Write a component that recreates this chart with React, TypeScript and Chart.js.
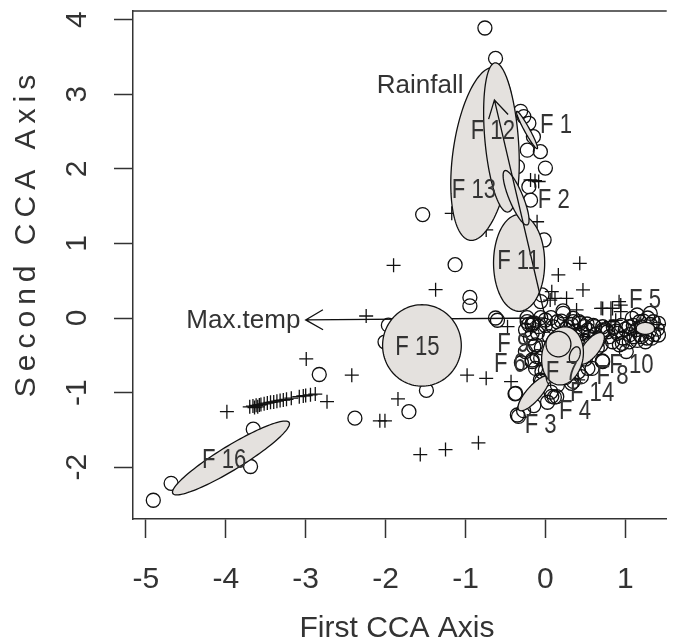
import React, { useEffect, useRef } from "react";
import { Chart, registerables } from "chart.js";

Chart.register(...registerables);

// ---------- data ----------
const xTicks = [-5, -4, -3, -2, -1, 0, 1];
const yTicks = [-2, -1, 0, 1, 2, 3, 4];
const xTitle = "First CCA Axis";
const yTitle = "Second CCA Axis";

// site scores drawn as open circles
const sitesCircle: [number, number][] = [
  [-0.757, 3.887], [-0.624, 3.48],
  [-0.31, 2.77], [-0.27, 2.7], [-0.207, 2.61], [-0.15, 2.43], [-0.227, 2.25], [-0.063, 2.23], [0.0, 2.01],
  [-0.35, 2.03], [-0.207, 1.76], [-0.186, 1.58],
  [-1.536, 1.386], [-1.13, 0.715], [-0.945, 0.276], [-0.945, 0.162], [-0.624, 0.0], [-0.6, -0.03],
  [-1.965, -0.096], [-2.007, -0.322], [-2.83, -0.757], [-1.489, -0.97], [-1.708, -1.256], [-2.384, -1.342],
  [-3.656, -1.49], [-3.69, -1.99], [-4.684, -2.216], [-4.907, -2.443],
  [-0.016, 1.046], [-0.043, 0.309], [-0.06, 0.22],
  [-0.209, -0.087], [-0.23, 0.004], [-0.145, -0.064], [-0.059, 0.004], [0.07, 0.004], [0.198, -0.041],
  [0.327, -0.087], [0.37, -0.177], [-0.187, -0.268], [-0.123, -0.359], [-0.059, -0.54], [-0.166, -0.585],
  [-0.123, -0.676], [0.155, -0.721], [0.37, -0.495], [0.498, -0.313], [0.626, -0.223], [0.755, -0.155],
  [0.883, -0.177], [0.969, -0.268], [1.055, -0.223], [1.14, -0.155], [1.226, -0.041], [1.312, -0.087],
  [1.355, -0.223], [1.269, -0.268], [1.183, -0.223], [0.926, -0.359], [0.712, -0.576], [1.012, -0.449],
  [0.584, -0.676], [0.412, -0.721], [0.07, -0.993], [0.112, -1.061], [0.027, -1.129], [-0.145, -1.174],
  [-0.273, -1.242], [-0.337, -1.319], [-0.38, -1.016], [0.22, 0.095],
  [0.0, -0.1], [0.1, -0.12], [0.25, -0.15], [0.45, -0.2], [0.55, -0.25], [0.3, -0.3], [0.05, -0.25],
  [-0.05, -0.4], [0.0, -0.7], [0.25, -0.8], [0.35, -0.85], [0.5, -0.55], [0.65, -0.4], [0.8, -0.25],
  [0.85, -0.12], [1.1, -0.1], [1.18, -0.05], [1.3, -0.18], [1.4, -0.15], [1.0, -0.15], [0.6, -0.1],
  [-0.3, -0.6], [-0.25, -0.45], [0.15, -0.9], [-0.05, -0.85], [1.2, -0.25], [1.35, -0.05], [1.28, 0.0],
  [1.15, -0.3], [0.42, -0.05], [0.15, -0.05], [-0.1, -0.2],
  [1.087, -0.005], [1.148, 0.04], [1.312, 0.062], [1.415, -0.072], [1.415, -0.228], [1.251, -0.318],
  [1.107, -0.251], [1.045, -0.117],
  [0.717, -0.117], [0.778, -0.184], [0.902, -0.206], [0.963, -0.34], [0.84, -0.318], [0.696, -0.362],
  [-0.166, -0.093], [0.347, -0.004], [0.491, -0.116], [0.717, -0.16], [0.717, -0.585], [-0.372, -1.01],
  [-0.351, -1.3], [0.08, -1.05], [-0.166, -0.563],
  [-0.228, -0.049], [-0.166, -0.071], [-0.248, -0.161], [-0.166, -0.205], [-0.084, -0.116], [0.0, -0.027],
  [0.224, 0.063], [0.347, -0.049], [0.43, -0.071], [0.532, -0.161], [0.614, -0.116], [0.717, -0.183],
  [0.471, -0.205], [0.49, -0.34], [-0.145, -0.384], [-0.104, -0.518], [-0.043, -0.72], [-0.063, -0.831],
  [0.142, -1.054], [0.327, -0.876], [0.45, -0.786], [0.532, -0.675], [0.28, -0.12], [0.52, -0.08],
  [0.95, -0.1], [1.05, -0.32], [1.2, -0.12], [1.33, -0.27], [0.66, -0.3], [0.4, -0.3],
];

// species scores drawn as plus signs
const sitesPlus: [number, number][] = [
  [-1.9, 0.706], [-1.374, 0.38], [-2.243, 0.027], [-2.993, -0.549], [-2.423, -0.766], [-2.733, -1.121],
  [-3.986, -1.256], [-1.845, -1.084], [-2.072, -1.378], [-2.008, -1.378], [-1.566, -1.831], [-1.25, -1.763],
  [-0.838, -1.673], [-0.98, -0.766], [-0.741, -0.808], [-0.43, -0.853], [-0.474, -0.116],
  [0.43, 0.733], [0.162, 0.577], [0.47, 0.376], [0.08, 0.353], [0.12, 0.264], [0.265, 0.264], [0.39, 0.108],
  [0.697, 0.13], [0.922, 0.219], [0.82, 0.13], [0.717, 0.129], [0.84, 0.129], [0.943, 0.174], [0.943, 0.085],
  [0.82, -0.05], [0.88, -0.03], [0.06, 0.24], [0.41, -0.83], [-0.186, 1.85], [-0.084, 1.83], [-0.13, 1.84],
  [-1.172, 1.403], [-0.104, 1.29], [-0.741, 1.18], [1.42, -0.09],
  [-3.7, -1.19], [-3.66, -1.18], [-3.64, -1.2], [-3.62, -1.17], [-3.6, -1.19], [-3.58, -1.165], [-3.56, -1.16],
  [-3.52, -1.15], [-3.48, -1.14], [-3.44, -1.13], [-3.4, -1.125], [-3.36, -1.115], [-3.32, -1.105],
  [-3.28, -1.1], [-3.24, -1.09], [-3.18, -1.075], [-3.08, -1.055], [-3.03, -1.045], [-3.0, -1.04],
  [-2.94, -1.03], [-2.88, -1.02],
];

// group dispersion ellipses (centre, two conjugate semi-axis vectors) in drawing order
const groupEllipseNames = ["F1", "F11", "F13", "F12", "F14", "F15", "F16", "F2", "F3", "F6", "F7", "F5", "F8", "F9"];
const groupEllipseCentre: [number, number][] = [
  [-0.23, 2.52], [-0.329, 0.738], [-0.79, 2.2], [-0.55, 2.42], [0.574, -0.407], [-1.545, -0.368],
  [-3.935, -1.876], [-0.367, 1.612], [-0.146, -1.01], [0.04, -0.652], [0.214, -0.507], [1.251, -0.139],
  [0.368, -0.496], [0.163, -0.35],
];
const groupEllipseU: [number, number][] = [
  [0.128, -0.25], [0.0, 0.648], [0.136, 1.16], [-0.075, 1.0], [0.144, 0.201], [0.0, 0.546],
  [0.728, 0.475], [-0.141, 0.363], [0.185, 0.224], [0.0, 0.224], [0.03, 0.39], [0.0, 0.08],
  [0.03, 0.11], [0.0, 0.17],
];
const groupEllipseV: [number, number][] = [
  [0.03, 0.015], [0.32, 0.0], [0.37, 0.0], [0.21, 0.0], [0.078, -0.066], [0.4925, 0.0],
  [0.076, -0.138], [0.08, 0.036], [0.067, -0.066], [0.041, 0.0], [0.26, 0.0], [0.115, 0.0],
  [0.062, -0.01], [0.156, 0.0],
];

// group labels
const groupLabels = ["F 1", "F 2", "F 12", "F 13", "F 11", "F 5", "F 15", "F 16", "F 9", "F 6", "F 7", "F 8", "F 10", "F 14", "F 4", "F 3"];
const groupLabelPos: [number, number][] = [
  [0.134, 2.596], [0.104, 1.59], [-0.658, 2.519], [-0.894, 1.726], [-0.337, 0.774], [1.247, 0.253],
  [-1.601, -0.381], [-4.02, -1.9], [-0.401, -0.336], [-0.444, -0.608], [0.204, -0.719], [0.84, -0.766],
  [1.076, -0.63], [0.584, -0.993], [0.37, -1.242], [-0.059, -1.424],
];

// environmental biplot arrows
const envNames = ["Max.temp", "Rainfall"];
const envTips: [number, number][] = [[-3.0, -0.025], [-0.638, 2.923]];
const envLabelPos: [number, number][] = [[-3.78, -0.03], [-1.567, 3.13]];

// ---------- drawing helpers ----------
const INK = "#111111";
const TEXT = "#333333";
const FILL = "#e4e1de";

const overlayPlugin = {
  id: "ccaOverlay",
  afterDatasetsDraw(chart: any) {
    const ctx: CanvasRenderingContext2D = chart.ctx;
    const xs = chart.scales.x;
    const ys = chart.scales.y;
    const ca = chart.chartArea;
    const px = (v: number) => xs.getPixelForValue(v);
    const py = (v: number) => ys.getPixelForValue(v);

    const arrow = (i: number) => {
      const x0 = px(0), y0 = py(0);
      const x1 = px(envTips[i][0]), y1 = py(envTips[i][1]);
      ctx.strokeStyle = INK;
      ctx.lineWidth = 1.3;
      ctx.beginPath();
      ctx.moveTo(x0, y0);
      ctx.lineTo(x1, y1);
      const a = Math.atan2(y1 - y0, x1 - x0);
      const L = 20, h = Math.PI / 6;
      ctx.moveTo(x1 - L * Math.cos(a - h), y1 - L * Math.sin(a - h));
      ctx.lineTo(x1, y1);
      ctx.lineTo(x1 - L * Math.cos(a + h), y1 - L * Math.sin(a + h));
      ctx.stroke();
    };

    ctx.save();
    ctx.beginPath();
    ctx.rect(ca.left, ca.top, ca.right - ca.left, ca.bottom - ca.top);
    ctx.clip();

    arrow(0);

    for (let i = 0; i < groupEllipseNames.length; i++) {
      const [cx, cy] = groupEllipseCentre[i];
      const [ux, uy] = groupEllipseU[i];
      const [vx, vy] = groupEllipseV[i];
      ctx.beginPath();
      const n = 120;
      for (let k = 0; k <= n; k++) {
        const t = (k / n) * Math.PI * 2;
        const X = cx + Math.cos(t) * ux + Math.sin(t) * vx;
        const Y = cy + Math.cos(t) * uy + Math.sin(t) * vy;
        if (k === 0) ctx.moveTo(px(X), py(Y));
        else ctx.lineTo(px(X), py(Y));
      }
      ctx.closePath();
      ctx.fillStyle = FILL;
      ctx.fill();
      ctx.strokeStyle = INK;
      ctx.lineWidth = 1.3;
      ctx.stroke();
    }

    arrow(1);

    ctx.fillStyle = TEXT;
    ctx.textAlign = "center";
    ctx.textBaseline = "middle";
    ctx.font = '27px "Liberation Sans", Arial, sans-serif';
    for (let i = 0; i < groupLabels.length; i++) {
      ctx.save();
      ctx.translate(px(groupLabelPos[i][0]), py(groupLabelPos[i][1]));
      ctx.scale(0.82, 1);
      ctx.fillText(groupLabels[i], 0, 1);
      ctx.restore();
    }
    ctx.font = '26px "Liberation Sans", Arial, sans-serif';
    for (let i = 0; i < envNames.length; i++) {
      ctx.fillText(envNames[i], px(envLabelPos[i][0]), py(envLabelPos[i][1]) + 1);
    }
    ctx.restore();

    // top frame line
    ctx.save();
    ctx.strokeStyle = "#333333";
    ctx.lineWidth = 1.5;
    ctx.beginPath();
    ctx.moveTo(ca.left, ca.top);
    ctx.lineTo(ca.right, ca.top);
    ctx.stroke();

    // tick labels and titles
    ctx.fillStyle = TEXT;
    ctx.font = '30px "Liberation Sans", Arial, sans-serif';
    ctx.textAlign = "center";
    ctx.textBaseline = "alphabetic";
    for (const v of xTicks) {
      ctx.fillText(String(v), px(v), 588);
    }
    ctx.fillText(xTitle, (ca.left + 661) / 2, 637);
    for (const v of yTicks) {
      ctx.save();
      ctx.translate(86, py(v));
      ctx.rotate(-Math.PI / 2);
      ctx.fillText(String(v), 0, 0);
      ctx.restore();
    }
    ctx.save();
    ctx.translate(35, 236);
    ctx.rotate(-Math.PI / 2);
    (ctx as any).letterSpacing = "6px";
    ctx.fillText(yTitle, 3, 0);
    ctx.restore();
    ctx.restore();
  },
};

export default function App() {
  const ref = useRef<HTMLCanvasElement | null>(null);

  useEffect(() => {
    document.body.style.margin = "0";
    const canvas = ref.current;
    if (!canvas) return;
    const pointStyleCommon = {
      pointRadius: 7,
      pointHoverRadius: 7,
      borderColor: INK,
      backgroundColor: "rgba(0,0,0,0)",
      borderWidth: 1.3,
      showLine: false,
    };
    const chart = new Chart(canvas, {
      type: "scatter",
      data: {
        datasets: [
          {
            label: "sites",
            data: sitesCircle.map(([x, y]) => ({ x, y })),
            pointStyle: "circle",
            ...pointStyleCommon,
          },
          {
            label: "species",
            data: sitesPlus.map(([x, y]) => ({ x, y })),
            pointStyle: "cross",
            ...pointStyleCommon,
          },
        ],
      },
      options: {
        animation: false,
        responsive: false,
        maintainAspectRatio: false,
        layout: { padding: { top: 11, right: 0, left: 0, bottom: 0 } },
        plugins: { legend: { display: false }, tooltip: { enabled: false } },
        events: [],
        scales: {
          x: {
            type: "linear",
            min: -5.161,
            max: 1.518,
            afterBuildTicks: (s: any) => {
              s.ticks = xTicks.map((v) => ({ value: v }));
            },
            afterFit: (s: any) => {
              s.height = 125;
            },
            ticks: { display: false },
            grid: {
              drawOnChartArea: false,
              drawTicks: true,
              tickLength: 19,
              tickColor: "#333333",
              tickWidth: 1.5,
              color: "#333333",
            },
            border: { display: true, color: "#333333", width: 1.5 },
          },
          y: {
            type: "linear",
            min: -2.694,
            max: 4.115,
            afterBuildTicks: (s: any) => {
              s.ticks = yTicks.map((v) => ({ value: v }));
            },
            afterFit: (s: any) => {
              s.width = 133;
            },
            ticks: { display: false },
            grid: {
              drawOnChartArea: false,
              drawTicks: true,
              tickLength: 19,
              tickColor: "#333333",
              tickWidth: 1.5,
              color: "#333333",
            },
            border: { display: true, color: "#333333", width: 1.5 },
          },
        },
      },
      plugins: [overlayPlugin],
    } as any);
    return () => chart.destroy();
  }, []);

  return (
    <div style={{ width: 675, height: 644, background: "#ffffff" }}>
      <canvas ref={ref} width={675} height={644} style={{ display: "block" }} />
    </div>
  );
}
